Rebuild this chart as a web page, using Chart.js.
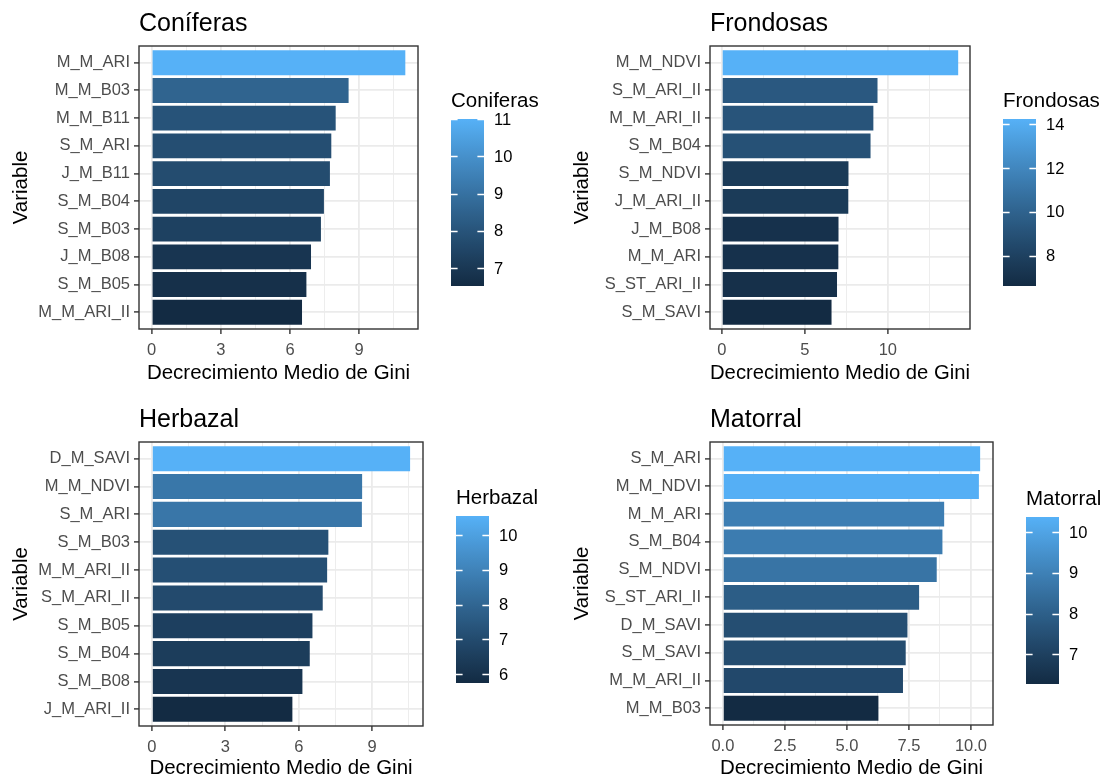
<!DOCTYPE html>
<html>
<head>
<meta charset="utf-8">
<title>Decrecimiento Medio de Gini</title>
<script src="https://cdn.jsdelivr.net/npm/chart.js@4.4.1/dist/chart.umd.min.js"></script>
<style>
  html, body { margin: 0; padding: 0; background: #ffffff; }
  #wrap { position: relative; width: 1105px; height: 782px; overflow: hidden; background: #ffffff; }
  #wrap canvas { position: absolute; }
</style>
</head>
<body>
<div id="wrap">
  <canvas id="cCon" width="552" height="391" style="left:0px;top:0px"></canvas>
  <canvas id="cFro" width="553" height="391" style="left:552px;top:0px"></canvas>
  <canvas id="cHer" width="552" height="391" style="left:0px;top:391px"></canvas>
  <canvas id="cMat" width="553" height="391" style="left:552px;top:391px"></canvas>
</div>
<script>
// ---- Importance values (mean decrease in Gini), top variable first ----
const coniferasVars = ['M_M_ARI', 'M_M_B03', 'M_M_B11', 'S_M_ARI', 'J_M_B11', 'S_M_B04', 'S_M_B03', 'J_M_B08', 'S_M_B05', 'M_M_ARI_II'];
const coniferasGini = [11.0, 8.54, 7.98, 7.79, 7.73, 7.47, 7.34, 6.91, 6.71, 6.52];

const frondosasVars = ['M_M_NDVI', 'S_M_ARI_II', 'M_M_ARI_II', 'S_M_B04', 'S_M_NDVI', 'J_M_ARI_II', 'J_M_B08', 'M_M_ARI', 'S_ST_ARI_II', 'S_M_SAVI'];
const frondosasGini = [14.24, 9.38, 9.13, 8.96, 7.63, 7.62, 7.03, 7.02, 6.94, 6.61];

const herbazalVars = ['D_M_SAVI', 'M_M_NDVI', 'S_M_ARI', 'S_M_B03', 'M_M_ARI_II', 'S_M_ARI_II', 'S_M_B05', 'S_M_B04', 'S_M_B08', 'J_M_ARI_II'];
const herbazalGini = [10.55, 8.59, 8.58, 7.21, 7.16, 6.98, 6.56, 6.45, 6.15, 5.74];

const matorralVars = ['S_M_ARI', 'M_M_NDVI', 'M_M_ARI', 'S_M_B04', 'S_M_NDVI', 'S_ST_ARI_II', 'D_M_SAVI', 'S_M_SAVI', 'M_M_ARI_II', 'M_M_B03'];
const matorralGini = [10.37, 10.32, 8.92, 8.85, 8.62, 7.91, 7.44, 7.37, 7.26, 6.27];

// ---- Axis ticks (major with labels, minor grid only) ----
const ticksBy3 = [0, 3, 6, 9];
const ticksBy3Labels = ['0', '3', '6', '9'];
const minorBy3 = [1.5, 4.5, 7.5, 10.5];
const ticksBy5 = [0, 5, 10];
const ticksBy5Labels = ['0', '5', '10'];
const minorBy5 = [2.5, 7.5, 12.5];
const ticksBy25 = [0, 2.5, 5, 7.5, 10];
const ticksBy25Labels = ['0.0', '2.5', '5.0', '7.5', '10.0'];
const minorBy25 = [1.25, 3.75, 6.25, 8.75];

// ---- Colour bar breaks ----
const coniferasBreaks = [7, 8, 9, 10, 11];
const frondosasBreaks = [8, 10, 12, 14];
const herbazalBreaks = [6, 7, 8, 9, 10];
const matorralBreaks = [7, 8, 9, 10];

const FONT = '"Liberation Sans", Arial, Helvetica, sans-serif';
const AXIS_TITLE = 'Decrecimiento Medio de Gini';

// ---- Sequential fill scale, interpolated in CIE Lab ----
const WHITE = [0.95047, 1.0, 1.08883];
function hexToRgb(h) { return [1, 3, 5].map(i => parseInt(h.slice(i, i + 2), 16)); }
function toLinear(c) { c /= 255; return c <= 0.04045 ? c / 12.92 : Math.pow((c + 0.055) / 1.055, 2.4); }
function fromLinear(c) {
  c = c <= 0.0031308 ? 12.92 * c : 1.055 * Math.pow(c, 1 / 2.4) - 0.055;
  return Math.round(Math.min(1, Math.max(0, c)) * 255);
}
function fLab(t) { return t > 0.008856 ? Math.cbrt(t) : 7.787 * t + 16 / 116; }
function fLabInv(t) { return t > 0.206893 ? t * t * t : (t - 16 / 116) / 7.787; }
function rgbToLab(rgb) {
  const r = toLinear(rgb[0]), g = toLinear(rgb[1]), b = toLinear(rgb[2]);
  const X = (0.4124 * r + 0.3576 * g + 0.1805 * b) / WHITE[0];
  const Y = (0.2126 * r + 0.7152 * g + 0.0722 * b) / WHITE[1];
  const Z = (0.0193 * r + 0.1192 * g + 0.9505 * b) / WHITE[2];
  const fx = fLab(X), fy = fLab(Y), fz = fLab(Z);
  return [116 * fy - 16, 500 * (fx - fy), 200 * (fy - fz)];
}
function labToRgb(lab) {
  const fy = (lab[0] + 16) / 116, fx = fy + lab[1] / 500, fz = fy - lab[2] / 200;
  const X = fLabInv(fx) * WHITE[0], Y = fLabInv(fy) * WHITE[1], Z = fLabInv(fz) * WHITE[2];
  const r = 3.2406 * X - 1.5372 * Y - 0.4986 * Z;
  const g = -0.9689 * X + 1.8758 * Y + 0.0415 * Z;
  const b = 0.0557 * X - 0.2040 * Y + 1.0570 * Z;
  return [fromLinear(r), fromLinear(g), fromLinear(b)];
}
const LOW_LAB = rgbToLab(hexToRgb('#132B43'));
const HIGH_LAB = rgbToLab(hexToRgb('#56B1F7'));
function fillColour(t) {
  t = Math.min(1, Math.max(0, t));
  const lab = LOW_LAB.map((v, i) => v + (HIGH_LAB[i] - v) * t);
  const c = labToRgb(lab);
  return 'rgb(' + c[0] + ',' + c[1] + ',' + c[2] + ')';
}

// ---- Panel frame, title and colour bar ----
const panelDecor = {
  id: 'panelDecor',
  afterDraw(chart, args, o) {
    const ctx = chart.ctx;
    const a = chart.chartArea;
    ctx.save();

    // panel border
    ctx.strokeStyle = '#333333';
    ctx.lineWidth = 1.4;
    ctx.strokeRect(a.left, a.top, a.right - a.left, a.bottom - a.top);

    // plot title
    ctx.fillStyle = '#000000';
    ctx.font = '25px ' + FONT;
    ctx.textAlign = 'left';
    ctx.textBaseline = 'alphabetic';
    ctx.fillText(o.title, a.left, o.titleBaseline);

    // colour bar
    const bx = a.right + 33, bw = 33;
    const by = a.top + o.barOffset, bh = 167;
    const lo = o.lo, hi = o.hi;
    const grad = ctx.createLinearGradient(0, by + bh, 0, by);
    for (let k = 0; k <= 40; k++) grad.addColorStop(k / 40, fillColour(k / 40));
    ctx.fillStyle = grad;
    ctx.fillRect(bx, by, bw, bh);

    const yOf = v => by + bh - (v - lo) / (hi - lo) * bh;
    ctx.strokeStyle = '#ffffff';
    ctx.lineWidth = 1.3;
    ctx.fillStyle = '#000000';
    ctx.font = '16.5px ' + FONT;
    ctx.textBaseline = 'middle';
    o.breaks.forEach(v => {
      const y = Math.round(yOf(v)) + 0.5;
      ctx.beginPath();
      ctx.moveTo(bx, y); ctx.lineTo(bx + bw / 5, y);
      ctx.moveTo(bx + bw - bw / 5, y); ctx.lineTo(bx + bw, y);
      ctx.stroke();
      ctx.fillText(String(v), bx + bw + 10, yOf(v) + 1);
    });

    ctx.font = '20.5px ' + FONT;
    ctx.textBaseline = 'alphabetic';
    ctx.fillText(o.legendTitle, bx, by - 12);
    ctx.restore();
  }
};

function drawPanel(p) {
  const canvas = document.getElementById(p.id);
  const W = canvas.width, H = canvas.height;
  const lo = Math.min(...p.values), hi = Math.max(...p.values);
  const n = p.vars.length;
  const major = p.major;
  const allTicks = major.concat(p.minor).sort((u, v) => u - v);
  const isMajor = v => major.some(m => Math.abs(m - v) < 1e-9);

  new Chart(canvas.getContext('2d'), {
    type: 'bar',
    data: {
      datasets: [{
        data: p.values.map((v, i) => ({ x: v, y: i })),
        backgroundColor: p.values.map(v => fillColour((v - lo) / (hi - lo))),
        borderWidth: 0,
        categoryPercentage: 0.9,
        barPercentage: 1.0
      }]
    },
    options: {
      indexAxis: 'y',
      responsive: false,
      animation: false,
      devicePixelRatio: 1,
      layout: { padding: { left: 0, top: p.T, right: W - p.R, bottom: 0 } },
      plugins: {
        legend: { display: false },
        tooltip: { enabled: false },
        title: { display: false },
        panelDecor: {
          title: p.title, titleBaseline: p.titleBaseline,
          legendTitle: p.legendTitle, breaks: p.breaks,
          lo: lo, hi: hi, barOffset: p.barOffset
        }
      },
      scales: {
        x: {
          type: 'linear',
          position: 'bottom',
          min: -0.05 * hi,
          max: 1.05 * hi,
          afterBuildTicks: s => { s.ticks = allTicks.map(v => ({ value: v })); },
          afterFit: s => { s.height = H - p.B; },
          ticks: {
            autoSkip: false, maxRotation: 0, minRotation: 0, padding: 7,
            color: '#4D4D4D', font: { family: FONT, size: 16.5 },
            callback: v => {
              const k = major.findIndex(m => Math.abs(m - v) < 1e-9);
              return k >= 0 ? p.majorLabels[k] : '';
            }
          },
          grid: {
            color: '#EBEBEB',
            lineWidth: c => (c.tick && isMajor(c.tick.value)) ? 1.8 : 0.9,
            tickColor: c => (c.tick && isMajor(c.tick.value)) ? '#333333' : 'rgba(0,0,0,0)',
            tickWidth: 1.4,
            tickLength: 5
          },
          border: { display: false },
          title: {
            display: true, text: AXIS_TITLE, color: '#000000',
            font: { family: FONT, size: 20.5, lineHeight: 1.2 },
            padding: { top: 0, bottom: p.xTitlePad }
          }
        },
        y: {
          type: 'linear',
          reverse: true,
          offset: false,
          min: -0.6,
          max: n - 1 + 0.6,
          afterBuildTicks: s => { s.ticks = p.vars.map((_, i) => ({ value: i })); },
          afterFit: s => { s.width = p.L; },
          ticks: {
            autoSkip: false, padding: 4,
            color: '#4D4D4D', font: { family: FONT, size: 16.5 },
            callback: v => p.vars[v]
          },
          grid: {
            offset: false,
            color: '#EBEBEB', lineWidth: 1.8,
            tickColor: '#333333', tickWidth: 1.4, tickLength: 5
          },
          border: { display: false },
          title: {
            display: true, text: 'Variable', color: '#000000',
            font: { family: FONT, size: 20.5, lineHeight: 1.2 },
            padding: { top: p.yTitlePad, bottom: 0 }
          }
        }
      }
    },
    plugins: [panelDecor]
  });
}

drawPanel({
  id: 'cCon', title: 'Coníferas', legendTitle: 'Coniferas',
  vars: coniferasVars, values: coniferasGini,
  major: ticksBy3, majorLabels: ticksBy3Labels, minor: minorBy3, breaks: coniferasBreaks,
  L: 139, R: 418, T: 46, B: 329, titleBaseline: 31, barOffset: 73,
  xTitlePad: 5.7, yTitlePad: 8.7
});
drawPanel({
  id: 'cFro', title: 'Frondosas', legendTitle: 'Frondosas',
  vars: frondosasVars, values: frondosasGini,
  major: ticksBy5, majorLabels: ticksBy5Labels, minor: minorBy5, breaks: frondosasBreaks,
  L: 158, R: 418, T: 46, B: 329, titleBaseline: 31, barOffset: 73,
  xTitlePad: 5.7, yTitlePad: 18.2
});
drawPanel({
  id: 'cHer', title: 'Herbazal', legendTitle: 'Herbazal',
  vars: herbazalVars, values: herbazalGini,
  major: ticksBy3, majorLabels: ticksBy3Labels, minor: minorBy3, breaks: herbazalBreaks,
  L: 139, R: 423, T: 51, B: 335, titleBaseline: 36, barOffset: 74,
  xTitlePad: 1.2, yTitlePad: 8.7
});
drawPanel({
  id: 'cMat', title: 'Matorral', legendTitle: 'Matorral',
  vars: matorralVars, values: matorralGini,
  major: ticksBy25, majorLabels: ticksBy25Labels, minor: minorBy25, breaks: matorralBreaks,
  L: 158, R: 441, T: 51, B: 334, titleBaseline: 36, barOffset: 75,
  xTitlePad: 1.2, yTitlePad: 18.2
});
</script>
</body>
</html>
